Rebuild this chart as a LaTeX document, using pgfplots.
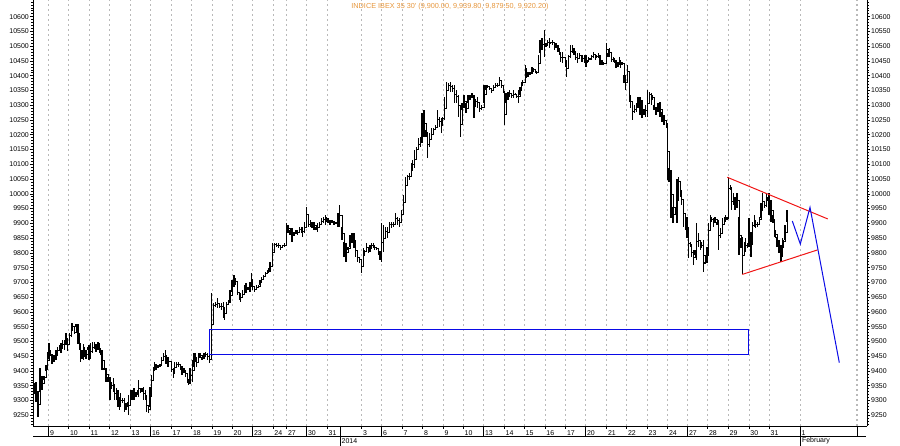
\documentclass[border=0pt]{standalone}
\usepackage{pgfplots}
\pgfplotsset{compat=1.18}
\usepackage{pgfplotstable}
\usepackage{fontspec}
\setmainfont{Liberation Sans}
\definecolor{gridgray}{RGB}{185,185,185}
\definecolor{titleorange}{RGB}{230,150,60}
\definecolor{boxblue}{RGB}{10,10,230}
\definecolor{trired}{RGB}{240,20,20}

\pgfplotstableread{
x lo hi
34 9322 9358
36 9296 9363
38 9245 9330
40 9330 9409
42 9335 9383
44 9371 9383
46 9401 9420
47.7 9403 9465
49 9442 9496
50.7 9449 9465
52 9425 9459
54 9431 9454
56 9437 9471
57.3 9454 9482
59.3 9471 9488
61 9460 9496
62.7 9476 9505
64.3 9471 9505
66 9488 9527
67.3 9468 9510
69.3 9516 9527
71.3 9516 9561
72.7 9539 9561
74.7 9527 9533
76 9550 9559
78 9493 9559
79.3 9471 9493
80.7 9431 9493
82 9442 9471
83.3 9437 9493
84.7 9448 9482
86 9442 9471
88 9471 9482
89 9437 9488
90.7 9442 9493
92.7 9460 9499
94.7 9476 9499
96 9465 9493
98 9471 9499
99.3 9460 9493
100.7 9454 9476
102 9403 9471
104 9403 9409
106 9364 9409
108 9364 9380
110 9302 9380
111.7 9341 9363
113.3 9330 9375
114.7 9302 9347
116.7 9302 9341
118 9279 9335
119.3 9268 9313
120.7 9279 9324
122.7 9290 9307
124.7 9262 9307
126 9268 9290
127.3 9285 9296
128.7 9251 9318
130.7 9313 9335
132 9302 9335
134 9302 9341
136 9313 9330
137.3 9318 9335
138.7 9313 9369
140.7 9324 9341
142 9330 9341
143.3 9302 9347
145.3 9302 9335
146.7 9262 9307
148.7 9257 9285
150 9279 9347
151.3 9347 9386
153.3 9386 9414
154.7 9414 9431
156 9403 9425
158 9409 9420
160 9414 9425
161.3 9425 9448
163.3 9437 9460
165.3 9425 9471
166.7 9425 9454
168 9414 9448
171.3 9397 9414
173.3 9375 9409
174.7 9392 9431
176.7 9414 9431
178.7 9414 9431
180.7 9403 9425
182 9386 9414
184 9392 9409
185.3 9380 9403
187.3 9358 9386
188.7 9352 9363
190 9358 9409
192.7 9364 9437
194 9414 9460
195.3 9431 9460
196.7 9414 9443
198.7 9437 9460
200 9443 9460
202 9437 9448
204 9443 9460
205.3 9448 9465
207.3 9437 9460
209.3 9426 9454
211.7 9454 9663
213.3 9612 9629
215.3 9618 9635
217.3 9612 9646
219.3 9612 9623
221.3 9607 9629
223.3 9578 9635
224.7 9573 9618
226.7 9618 9635
228.7 9623 9640
230 9635 9674
232 9669 9708
234 9686 9725
235.3 9691 9714
237.3 9657 9674
239.3 9640 9669
240.7 9635 9663
242.7 9646 9674
244.7 9674 9691
246 9663 9697
248 9674 9686
250 9669 9702
251.3 9686 9731
252.7 9674 9697
254.7 9669 9685
256.7 9674 9691
258.7 9680 9691
260 9691 9708
261.3 9702 9719
263.3 9714 9725
265.3 9725 9736
267.3 9731 9742
268.7 9731 9748
270 9736 9770
272.7 9770 9832
274.7 9827 9832
276.7 9821 9832
278.7 9815 9832
280.7 9810 9827
282.7 9821 9827
284.7 9821 9832
286.7 9838 9900
288 9872 9894
290 9861 9878
292 9838 9883
294 9861 9872
296 9866 9878
297.3 9861 9878
299.3 9866 9889
301.3 9866 9889
302.7 9855 9889
304.7 9866 9906
306.7 9900 9957
308.7 9889 9906
310.7 9889 9911
312 9883 9906
314 9878 9906
316 9878 9889
317.3 9872 9900
319.3 9889 9906
321.3 9894 9917
323.3 9900 9923
325.3 9894 9928
326.7 9906 9923
328 9900 9917
330 9894 9911
332 9900 9911
334 9894 9906
336 9900 9906
338 9889 9934
339.3 9889 9962
342 9844 9889
344 9787 9838
346 9770 9832
348 9810 9821
350 9821 9861
352 9832 9866
354 9815 9866
355.3 9787 9832
357.3 9770 9798
359.3 9765 9787
361.3 9731 9776
363.3 9770 9815
364.7 9798 9810
366.7 9804 9832
368.7 9798 9821
370 9804 9827
371.3 9815 9832
373.3 9815 9832
374.7 9810 9827
376.7 9810 9821
378.7 9793 9815
380 9776 9804
381.3 9770 9900
383.3 9804 9894
385.3 9855 9889
387.3 9849 9889
389.3 9883 9906
391.3 9883 9906
393.3 9889 9906
395.3 9900 9934
397.3 9895 9923
399.3 9889 9917
401.3 9917 9945
403.3 9945 9996
405.3 9996 10058
407.3 10053 10064
409.3 10047 10069
411.3 10058 10103
412.7 10081 10115
414.7 10086 10149
416.7 10137 10160
418.7 10149 10188
420.7 10160 10194
422 10171 10273
424 10194 10284
426 10194 10216
427.3 10120 10211
429.3 10160 10205
431.3 10182 10222
433.3 10211 10222
435.3 10216 10233
437.3 10222 10284
439.3 10228 10261
441.3 10205 10256
442.7 10250 10261
444.7 10250 10329
446.7 10323 10380
448.7 10357 10374
450.7 10346 10380
452.7 10346 10369
454.7 10307 10369
456.7 10307 10352
458.7 10261 10335
460.7 10194 10278
462 10284 10307
464 10290 10335
466 10273 10307
468 10307 10335
470 10318 10335
472 10329 10340
474 10256 10335
475.3 10301 10323
477.3 10290 10329
479.3 10278 10301
481.3 10284 10301
484 10307 10369
486 10352 10369
487.3 10357 10369
489.3 10352 10363
491.3 10340 10357
493.3 10352 10369
495.3 10357 10374
497.3 10363 10374
499.3 10369 10397
501.3 10357 10374
503.3 10340 10352
504.3 10233 10307
506 10307 10340
508 10318 10346
509.3 10329 10352
511.3 10324 10340
513.3 10324 10352
515.3 10335 10340
516.7 10324 10335
518.7 10307 10352
520 10335 10363
521.3 10357 10380
522.7 10369 10386
525.3 10380 10436
526.7 10391 10425
528 10397 10414
530 10403 10414
532 10408 10431
533.3 10414 10425
535.3 10408 10419
536.7 10408 10414
538.7 10414 10470
540 10476 10521
542 10487 10527
544.7 10465 10555
546 10498 10510
547.3 10504 10521
549.3 10493 10527
550.7 10510 10515
552.7 10504 10521
554.7 10487 10510
556 10493 10510
558 10482 10504
559.3 10470 10487
560.7 10448 10476
562.7 10442 10482
565.3 10431 10465
566.7 10397 10453
568.7 10459 10470
570.7 10459 10504
572.7 10476 10504
574 10470 10493
575.3 10453 10470
577.3 10442 10476
579.3 10459 10476
581.3 10448 10470
582.7 10448 10470
584.7 10442 10470
586 10431 10470
587.3 10442 10453
588.7 10448 10465
590 10453 10459
591.3 10459 10470
593.3 10459 10482
595.3 10453 10470
596.7 10459 10470
598.7 10459 10476
600 10436 10470
602 10436 10453
603.3 10436 10448
606.7 10470 10510
608 10465 10476
609.3 10465 10493
611.3 10448 10465
613.3 10448 10465
614.7 10442 10459
616 10425 10453
618 10431 10448
619.3 10436 10465
620.7 10425 10448
622 10436 10448
624 10374 10402
625.3 10352 10402
627.3 10391 10436
629.3 10312 10340
630.7 10290 10335
632.7 10250 10307
634.7 10273 10301
636.7 10278 10307
638 10290 10329
640 10267 10329
642 10256 10318
644 10267 10284
645.3 10261 10301
647.3 10261 10352
649.3 10324 10346
651.3 10301 10340
652.7 10318 10335
654 10284 10301
656 10267 10295
658 10278 10307
660 10261 10312
662 10244 10278
664 10233 10267
666.7 10222 10239
667.7 10047 10239
669 10041 10086
671 9917 10081
673 9900 9957
675 9951 9957
677 9900 10052
678.3 10024 10058
680.3 9990 10030
681.7 9962 10002
683.7 9889 9979
685.7 9877 9934
687 9849 9922
688.3 9781 9883
690.3 9821 9838
691.7 9787 9815
693.7 9759 9810
695 9793 9810
696.3 9776 9900
698.3 9821 9866
700.3 9810 9843
701.7 9815 9838
703.7 9736 9843
705 9764 9770
707 9764 9821
708.3 9849 9900
710.3 9889 9928
711.7 9906 9923
713.7 9889 9917
715 9906 9923
717 9894 9906
718.3 9810 9911
720.3 9849 9883
722.3 9877 9917
724.3 9900 9923
725.7 9906 9928
727 9911 9923
728.3 9979 10058
730.3 10013 10030
731.7 9945 10002
733.7 9962 10002
735 9945 9990
737 9951 10002
739 9793 9923
741 9815 9849
742.3 9730 9855
744.3 9821 9838
745.7 9804 9849
747.7 9815 9832
749 9821 9917
751 9787 9872
752.3 9877 9906
754.3 9889 9928
755.7 9883 9906
757.7 9889 9906
759.7 9900 9923
761 9917 9968
762.3 9945 10002
764.3 9951 9973
766.3 9956 10002
767.7 9979 9990
769 9928 10002
771 9906 9979
773 9900 9928
774.3 9855 9889
775.7 9849 9877
777 9821 9855
779 9798 9843
781 9770 9827
782.3 9787 9849
783.7 9832 9843
785 9843 9894
787 9906 9945
}\bars

\begin{document}
\begin{tikzpicture}
\path[use as bounding box] (0,0) rectangle (900bp,446bp);
\pgfplotsset{
  common/.style={
    scale only axis, width=834bp, height=426bp,
    at={(33bp,20bp)}, anchor=south west,
    xmin=33, xmax=867, ymin=9213.5, ymax=10656.6,
    ytick={9250,9300,...,10600},
    minor ytick={9220,9230,...,10650},
    scaled y ticks=false,
    tick align=outside,
    major tick length=3bp, minor tick length=1.8bp,
    every tick/.style={black, line width=0.6bp},
    yticklabel style={font=\fontsize{7}{8}\selectfont, inner sep=1bp,
      /pgf/number format/fixed, /pgf/number format/precision=0},
    /pgf/number format/assume math mode=true,
    /pgf/number format/1000 sep={},
    axis line style={line width=0.9bp, black},
  }
}
\begin{axis}[common,
  axis x line*=bottom, axis y line*=left, clip=false,
  xtick={48.7,68.7,89.3,109.7,130.3,150.7,171.3,191.7,212,232.3,252.7,273,286.7,306.7,327.3,361.7,381.7,402.3,422.7,443.3,463.3,483.7,504.3,524.3,545,565.7,585.7,606.7,626.7,647.3,667.7,687.7,707.7,728.3,749,769.3,800.3},
  xticklabels={9,10,11,12,13,16,17,18,19,20,23,24,27,30,31,3,6,7,8,9,10,13,14,15,16,17,20,21,22,23,24,27,28,29,30,31,1},
  xticklabel style={font=\fontsize{7}{8}\selectfont, anchor=north west, inner sep=0pt, xshift=1.2bp, yshift=-1.2bp},
]
\pgfplotsinvokeforeach{48.7,68.7,89.3,109.7,130.3,150.7,171.3,191.7,212,232.3,252.7,273,286.7,306.7,327.3,361.7,381.7,402.3,422.7,443.3,463.3,483.7,504.3,524.3,545,565.7,585.7,606.7,626.7,647.3,667.7,687.7,707.7,728.3,749,769.3,800.3,856,857.7}{
  \draw[gridgray, dash pattern=on 2bp off 3bp, line width=0.7bp] (axis cs:#1,9213.5) -- (axis cs:#1,10656.6);
}
\addplot[const plot, black, line width=1bp, line cap=butt,
  error bars/.cd, y dir=both, y explicit, error mark=none,
  error bar style={line width=1.05bp, black}]
  table[x=x, y expr={(\thisrow{lo}+\thisrow{hi})/2}, y error expr={(\thisrow{hi}-\thisrow{lo})/2}] {\bars};
\addplot[boxblue, line width=1bp] coordinates {(209,9541) (748,9541) (748,9456) (209,9456) (209,9541)};
\addplot[trired, line width=1bp] coordinates {(727.3,10056) (827.7,9915)};
\addplot[trired, line width=1bp] coordinates {(742.3,9727) (817.5,9810)};
\addplot[boxblue, line width=1bp] coordinates {(792.3,9908) (800.3,9830) (810,9954) (839.3,9428)};
\draw[line width=0.9bp] (axis cs:33,9179.6) -- (axis cs:866,9179.6);
\pgfplotsinvokeforeach{48.7,150.7,252.7,306.7,381.7,483.7,585.7,687.7,857}{
  \draw[line width=0.8bp] (axis cs:#1,9213.5) -- (axis cs:#1,9179.6);
}
\pgfplotsinvokeforeach{340,800.3}{
  \draw[line width=0.8bp] (axis cs:#1,9213.5) -- (axis cs:#1,9145.7);
}
\node[anchor=west, inner sep=0pt, font=\fontsize{7}{8}\selectfont] at (axis cs:341.5,9162.7) {2014};
\node[anchor=west, inner sep=0pt, font=\fontsize{7}{8}\selectfont] at (axis cs:801.8,9162.7) {February};
\end{axis}
\begin{axis}[common,
  axis x line=none, axis y line*=right, xtick=\empty,
]
\end{axis}
\node[font=\fontsize{7.3}{8.5}\selectfont, text=titleorange, inner sep=0pt] at (450bp,439bp) {INDICE IBEX 35 30\textquotesingle\ (9,900.00, 9,939.80, 9,879.50, 9,920.20)};
\end{tikzpicture}
\end{document}
